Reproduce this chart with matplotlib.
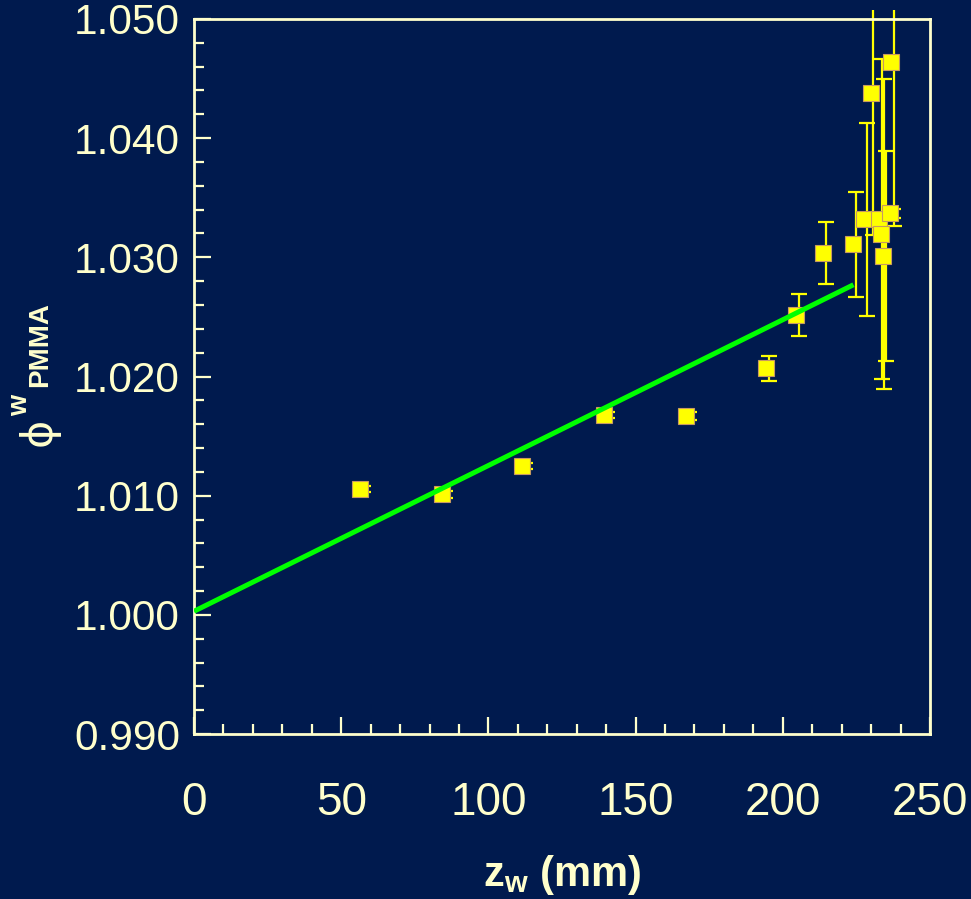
import matplotlib
matplotlib.use("Agg")
import matplotlib.pyplot as plt
from matplotlib.ticker import MultipleLocator
from matplotlib.transforms import Bbox, TransformedBbox

# measured points: depth in water (mm) and phi^w_PMMA
z_w = [56.4, 84.2, 111.4, 139.2, 167.1, 194.2, 204.4, 213.7, 223.9,
       227.6, 229.8, 232.6, 233.4, 234.1, 236.4, 236.6]
phi = [1.01057, 1.01011, 1.01248, 1.01676, 1.01668, 1.02070, 1.02515, 1.03038,
       1.03108, 1.03320, 1.04379, 1.03320, 1.03197, 1.03013, 1.03368, 1.04640]
phi_err = [0.00025, 0.00028, 0.00025, 0.00025, 0.0003, 0.00105, 0.00175, 0.0026,
           0.0044, 0.0081, 0.0119, 0.0134, 0.0130, 0.0088, 0.0004, 0.0138]

# linear fit line
fit_z = [0, 224]
fit_phi = [1.0003, 1.0277]

x_ticks = [0, 50, 100, 150, 200, 250]
y_ticks = [0.990, 1.000, 1.010, 1.020, 1.030, 1.040, 1.050]

BG = "#001a4e"
FG = "#ffffcc"
ERR_SHIFT = 1.0  # error bars drawn slightly right of the markers

plt.rcParams["font.family"] = ["Liberation Sans", "DejaVu Sans"]
plt.rcParams["mathtext.fontset"] = "custom"
plt.rcParams["mathtext.rm"] = "Liberation Sans"
plt.rcParams["mathtext.bf"] = "Liberation Sans:bold"
plt.rcParams["mathtext.it"] = "Liberation Sans:italic"

W, H = 971, 899
fig = plt.figure(figsize=(W / 100, H / 100), dpi=100, facecolor=BG)
ax = fig.add_axes([0.1998, 0.1835, 0.7580, 0.7954], facecolor=BG)

eb = ax.errorbar([z + ERR_SHIFT for z in z_w], phi, yerr=phi_err, fmt="none",
                 ecolor="#ffff00", elinewidth=1.6, capsize=6, capthick=1.6,
                 zorder=2)
clip = TransformedBbox(Bbox([[0, -0.01], [1, 1.0126]]), ax.transAxes)
for art in list(eb.lines[1]) + list(eb.lines[2]):
    art.set_clip_box(clip)

ax.plot(z_w, phi, "s", color="#ffff00", markersize=11, markeredgecolor="#c89a60",
        markeredgewidth=0.8, zorder=3)
ax.plot(fit_z, fit_phi, color="#00ff00", lw=3.6, zorder=4, solid_capstyle="butt")

ax.set_xlim(0, 250)
ax.set_ylim(0.990, 1.050)
ax.set_xticks(x_ticks)
ax.set_yticks(y_ticks)
ax.set_yticklabels(["%.3f" % v for v in y_ticks])
ax.xaxis.set_minor_locator(MultipleLocator(10))
ax.yaxis.set_minor_locator(MultipleLocator(0.002))

for s in ax.spines.values():
    s.set_color(FG)
    s.set_linewidth(2)

ax.tick_params(which="both", direction="in", colors=FG, width=1.6,
               top=False, right=False)
ax.tick_params(which="major", length=12)
ax.tick_params(which="minor", length=7)
ax.tick_params(axis="y", labelsize=30.5, pad=10)
ax.tick_params(axis="x", labelsize=33, pad=34)

ax.set_xlabel(r"$\mathbf{z_w}$ (mm)", fontsize=30, fontweight="bold",
              color=FG, labelpad=20)

# y label: phi with superscript w and PMMA, rotated
fig.text(39 / W, 1 - 432 / H, "\u03d5", rotation=90, fontsize=31,
         family=["DejaVu Sans"], color=FG, ha="center", va="center")
fig.text(20 / W, 1 - 405 / H, "w", rotation=90, fontsize=19.5,
         fontweight="bold", color=FG, ha="center", va="center")
fig.text(40 / W, 1 - 345 / H, "PMMA", rotation=90, fontsize=20,
         fontweight="bold", color=FG, ha="center", va="center")

fig.savefig("out.png", dpi=100, facecolor=BG)
